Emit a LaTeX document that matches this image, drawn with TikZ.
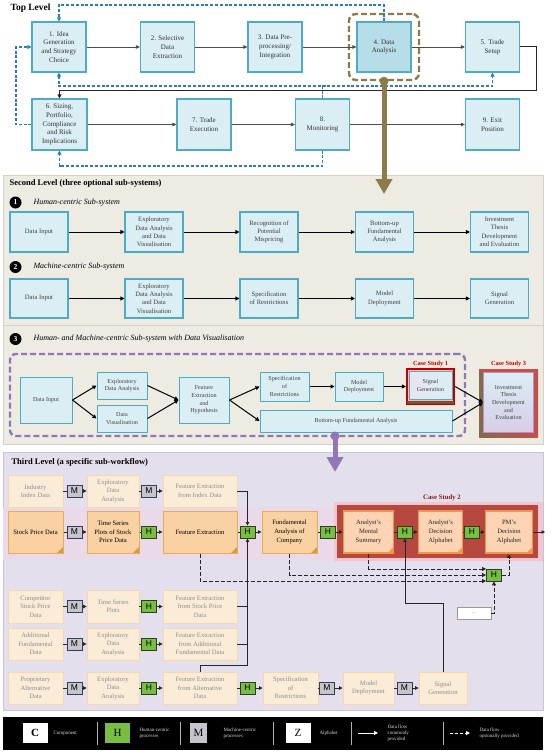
\documentclass[tikz,border=0pt]{standalone}
\usepackage{fontspec}
\setmainfont{Liberation Serif}
\newfontfamily\hsans{Liberation Sans}
\usetikzlibrary{arrows.meta,calc}
\definecolor{tlfill}{HTML}{DAEEF3}
\definecolor{tlline}{HTML}{4BACC6}
\definecolor{tlfourfill}{HTML}{B7DDE8}
\definecolor{olivec}{HTML}{8C7C4B}
\definecolor{bluec}{HTML}{2B7BC0}
\definecolor{beigec}{HTML}{EEEBE3}
\definecolor{beigeline}{HTML}{D6D1C4}
\definecolor{lavc}{HTML}{E4DFEC}
\definecolor{lavline}{HTML}{CBC3D8}
\definecolor{purplec}{HTML}{8F78B5}
\definecolor{fadfill}{HTML}{FBECD8}
\definecolor{fadline}{HTML}{F5D8B0}
\definecolor{fadtext}{HTML}{8C8C8C}
\definecolor{mainfill}{HTML}{FAD1A3}
\definecolor{mainline}{HTML}{E1AE5C}
\definecolor{maindark}{HTML}{D39A45}
\definecolor{csfill}{HTML}{FCD4B3}
\definecolor{csline}{HTML}{F0954A}
\definecolor{cstwored}{HTML}{B6483F}
\definecolor{cstwopink}{HTML}{F3C5D1}
\definecolor{cstwotext}{HTML}{821E1E}
\definecolor{pinkband}{HTML}{EADAE9}
\definecolor{hgreen}{HTML}{78BE43}
\definecolor{hline}{HTML}{2C3E20}
\definecolor{mgray}{HTML}{C5C5CC}
\definecolor{mline}{HTML}{3A3A55}
\definecolor{redc}{HTML}{C00000}
\definecolor{csbrown}{HTML}{7A5230}
\definecolor{csthreel}{HTML}{7F6C48}
\definecolor{csthreer}{HTML}{C4504B}
\definecolor{invbot}{HTML}{D7CDE8}
\definecolor{invline}{HTML}{C38CC8}
\tikzset{
 tl/.style={draw=tlline, fill=tlfill, line width=1.1pt, align=center, inner sep=1pt, text=black!80, font=\fontsize{7}{8.8}\selectfont, minimum width=54pt, minimum height=50pt},
 sl/.style={draw=tlline, fill=tlfill, line width=1.1pt, align=center, inner sep=1pt, text=black!75, font=\fontsize{6.6}{8.3}\selectfont, minimum width=58pt, minimum height=40pt},
 sthree/.style={draw=tlline, fill=tlfill, line width=1pt, align=center, inner sep=1pt, text=black!75, font=\fontsize{6.1}{7.7}\selectfont},
 fad/.style={draw=fadline, fill=fadfill, line width=0.8pt, align=center, inner sep=1pt, text=fadtext, font=\fontsize{6.6}{8.5}\selectfont, minimum height=32pt},
 fold/.style={path picture={\fill[#1] ([xshift=-6pt]path picture bounding box.south east) -- ([yshift=6pt]path picture bounding box.south east) -- (path picture bounding box.south east) -- cycle;}},
 mn/.style={draw=mainline, fill=mainfill, line width=1pt, align=center, inner sep=1pt, text=black, font=\fontsize{6.6}{8.6}\selectfont, minimum height=42pt, fold=maindark},
 an/.style={draw=csline, fill=csfill, line width=1.6pt, align=center, inner sep=1pt, text=black!85, font=\fontsize{6.6}{8.6}\selectfont, minimum height=42pt, fold=csline},
 hb/.style={draw=hline, fill=hgreen, line width=0.9pt, minimum width=15pt, minimum height=12pt, inner sep=0pt, font=\hsans\fontsize{8.5}{8.5}\selectfont},
 mb/.style={draw=mline, fill=mgray, line width=0.9pt, minimum width=15pt, minimum height=12pt, inner sep=0pt, font=\hsans\fontsize{8.5}{8.5}\selectfont},
 sm/.style={draw=black!85, line width=0.8pt},
 sma/.style={sm, -{Triangle[length=3.5pt,width=3.5pt]}},
 gline/.style={draw=black!70, line width=0.8pt, -{Triangle[length=4pt,width=3.5pt]}},
 kline/.style={draw=black, line width=1pt, -{Triangle[length=4pt,width=4pt]}},
 bd/.style={draw=bluec, line width=1.1pt, dash pattern=on 3pt off 1.8pt, -{Triangle[length=4pt,width=4pt]}},
 dk/.style={draw=black!85, line width=1pt, dash pattern=on 4pt off 2pt, -{Triangle[length=4pt,width=4pt]}},
 numc/.style={circle, fill=black, text=white, font=\bfseries\fontsize{7.5}{7.5}\selectfont, minimum size=12pt, inner sep=0pt},
 subt/.style={anchor=west, font=\itshape\fontsize{8}{9}\selectfont},
 head/.style={anchor=west, font=\bfseries\fontsize{8.5}{10}\selectfont},
 cst/.style={font=\bfseries\fontsize{6.3}{7}\selectfont},
 lgbox/.style={draw=none, fill=white, minimum width=25pt, minimum height=20pt, inner sep=0pt, font=\fontsize{11}{11}\selectfont},
 lgt/.style={anchor=west, text=white!85!black, align=left, font=\fontsize{5}{5.8}\selectfont},
 lgsep/.style={draw=white!70!black, line width=1pt}
}
\begin{document}
\begin{tikzpicture}[x=1pt,y=-1pt]
\useasboundingbox (0,0) rectangle (550,754);
\fill[white] (0,0) rectangle (550,754);

% ---------------- TOP LEVEL ----------------
\node[anchor=west, font=\bfseries\fontsize{9.5}{10}\selectfont] (ttop) at (7,8.5) {Top Level};
\node[tl] (n1) at (59,47) {1. Idea\\Generation\\and Strategy\\Choice};
\node[tl] (n2) at (167.5,47) {2. Selective\\Data\\Extraction};
\node[tl] (n3) at (275,47) {3. Data Pre-\\processing/\\Integration};
\node[tl, fill=tlfourfill] (n4) at (384,47) {4. Data\\Analysis};
\node[tl] (n5) at (492.5,47) {5. Trade\\Setup};
\node[tl, minimum width=55pt, minimum height=51pt] (n6) at (59.5,124.5) {6. Sizing,\\Portfolio,\\Compliance\\and Risk\\Implications};
\node[tl, minimum height=51pt] (n7) at (204,124.5) {7. Trade\\Execution};
\node[tl, minimum height=51pt] (n8) at (322.5,124.5) {8.\\Monitoring};
\node[tl, minimum height=51pt] (n9) at (492.5,124.5) {9. Exit\\Position};
\node[draw=olivec, line width=2.4pt, dash pattern=on 6pt off 3pt, rounded corners=7pt, minimum width=70pt, minimum height=66pt] (f4) at (384,47) {};

\draw[gline] (n1) -- (n2);
\draw[gline] (n2) -- (n3);
\draw[gline] (n3) -- (n4);
\draw[gline] (n4) -- (n5);
\draw[gline] (n6) -- (n7);
\draw[gline] (n7) -- (n8);
\draw[gline] (n8) -- (n9);
\draw[draw=black!85, line width=1pt, -{Triangle[length=4pt,width=4pt]}] (n5.east) -- (536,47) |- (59.5,91) -- (n6.north);

\draw[bd] (n4.north) -- (384,5) -| (n1.north);
\coordinate (b86) at (322.5,86);
\draw[bd] (n8.north) -- (b86) -| (n1.south);
\draw[bd] (b86) -| (n5.south);
\draw[bd] (n8.south) -- (322.5,166) -| (n6.south);
\draw[bd] (n6.west) -- (16,124.5) |- (n1.west);

% ---------------- SECOND LEVEL ----------------
\fill[beigec] (3,175) rectangle (543,444);
\draw[beigeline, line width=0.8pt] (3,175) rectangle (543,444);
\draw[beigeline, line width=1pt] (3,325.5) -- (543,325.5);

\node[head] (tsec) at (6,183) {Second Level (three optional sub-systems)};
\node[numc] (c1) at (15.5,202.5) {1};
\node[subt] (t1) at (30,202.5) {Human-centric Sub-system};
\node[sl] (s11) at (39,232) {Data Input};
\node[sl] (s12) at (154,232) {Exploratory\\Data Analysis\\and Data\\Visualisation};
\node[sl] (s13) at (269,232) {Recognition of\\Potential\\Mispricing};
\node[sl] (s14) at (384.5,232) {Bottom-up\\Fundamental\\Analysis};
\node[sl] (s15) at (499.5,232) {Investment\\Thesis\\Development\\and Evaluation};
\draw[kline] (s11) -- (s12);
\draw[kline] (s12) -- (s13);
\draw[kline] (s13) -- (s14);
\draw[kline] (s14) -- (s15);

\node[numc] (c2) at (15.5,267) {2};
\node[subt] (t2) at (30,267) {Machine-centric Sub-system};
\node[sl, minimum height=39pt] (s21) at (39,298.5) {Data Input};
\node[sl, minimum height=39pt] (s22) at (154,298.5) {Exploratory\\Data Analysis\\and Data\\Visualisation};
\node[sl, minimum height=39pt] (s23) at (269,298.5) {Specification\\of Restrictions};
\node[sl, minimum height=39pt] (s24) at (384.5,298.5) {Model\\Deployment};
\node[sl, minimum height=39pt] (s25) at (499.5,298.5) {Signal\\Generation};
\draw[kline] (s21) -- (s22);
\draw[kline] (s22) -- (s23);
\draw[kline] (s23) -- (s24);
\draw[kline] (s24) -- (s25);

\node[numc] (c3) at (15.5,339) {3};
\node[subt] (t3) at (30,339) {Human- and Machine-centric Sub-system with Data Visualisation};

\node[draw=purplec, line width=2.4pt, dash pattern=on 6pt off 3pt, rounded corners=6pt, minimum width=455pt, minimum height=82pt] (pf) at (237.5,395) {};

% case study 1 frame
\node[draw=redc, fill=white!75!redc, line width=2.2pt, minimum width=47pt, minimum height=35pt, inner sep=0pt] (cs1) at (430.5,386.5) {};
\fill[csbrown] (407.2,400.5) rectangle (453.8,403.8);
\node[cst, text=redc] (cs1t) at (430.5,363.5) {Case Study 1};
% case study 3 frame
\shade[left color=csthreel, right color=csthreer] (479,369) rectangle (538,437);
\fill[csthreer] (479,369) rectangle (538,372);
\node[cst, text=redc] (cs3t) at (508.5,363.5) {Case Study 3};

\node[sthree, minimum width=52pt, minimum height=46pt] (di3) at (46,400) {Data Input};
\node[sthree, minimum width=50pt, minimum height=27pt] (eda3) at (122,385.5) {Exploratory\\Data Analysis};
\node[sthree, minimum width=50pt, minimum height=27pt] (dv3) at (122,418.5) {Data\\Visualisation};
\node[sthree, minimum width=50pt, minimum height=46pt] (feh3) at (204,400) {Feature\\Extraction\\and\\Hypothesis};
\node[sthree, minimum width=49pt, minimum height=29pt] (spec3) at (284.5,386.5) {Specification\\of\\Restrictions};
\node[sthree, minimum width=48pt, minimum height=29pt] (model3) at (359,386.5) {Model\\Deployment};
\node[sthree, minimum width=43pt, minimum height=28pt, left color=white!80!purplec, right color=tlfill] (sig3) at (430.5,385.5) {Signal\\Generation};
\node[sthree, minimum width=192pt, minimum height=22pt] (bu3) at (356,421) {Bottom-up Fundamental Analysis};
\node[sthree, minimum width=50pt, minimum height=60pt, top color=tlfill, bottom color=invbot, draw=invline] (inv3) at (508.5,402.5) {Investment\\Thesis\\Development\\and\\Evaluation};

\draw[kline] (di3.east) -- (eda3.west);
\draw[kline] (di3.east) -- (dv3.west);
\draw[kline] (eda3.east) -- (feh3.west);
\draw[kline] (dv3.east) -- (feh3.west);
\draw[kline] (feh3.east) -- (spec3.west);
\draw[kline] (feh3.east) -- (bu3.west);
\draw[kline] (spec3) -- (model3);
\draw[kline] (model3) -- (cs1);
\draw[kline] (cs1.east) -- (inv3.west);
\draw[kline] (bu3.east) -- (inv3.west);

% big olive arrow
\fill[olivec] (f4.south) circle (4.5);
\coordinate (oa) at (384,194);
\draw[olivec, line width=5pt, -{Triangle[length=15pt,width=16pt]}] (f4.south) -- (oa);

% ---------------- THIRD LEVEL ----------------
\fill[lavc] (3,452) rectangle (543,710);
\draw[lavline, line width=0.8pt] (3,452) rectangle (543,710);
\fill[pinkband] (3.4,507) rectangle (542.6,560);
\fill[cstwopink] (334,502) rectangle (542.6,561);
\fill[cstwored] (337,505) rectangle (538,558);
\node[cst, text=cstwotext, font=\bfseries\fontsize{6.8}{7}\selectfont] (cs2t) at (442,497.5) {Case Study 2};
\node[head] (tthird) at (8,462) {Third Level (a specific sub-workflow)};

% row 1
\node[fad, minimum width=55pt] (r1a) at (35.5,491) {Industry\\Index Data};
\node[mb] (r1m1) at (74.5,491) {M};
\node[fad, minimum width=52pt] (r1b) at (113,491) {Exploratory\\Data\\Analysis};
\node[mb] (r1m2) at (149,491) {M};
\node[fad, minimum width=74pt] (r1c) at (200,491) {Feature Extraction\\from Index Data};
\draw[sm] (r1a) -- (r1m1); \draw[sma] (r1m1) -- (r1b);
\draw[sm] (r1b) -- (r1m2); \draw[sma] (r1m2) -- (r1c);

% row 2
\node[mn, minimum width=55pt] (spd) at (35.5,532) {Stock Price Data};
\node[mb] (r2m) at (74.5,532) {M};
\node[mn, minimum width=52pt] (tsp) at (113,532) {Time Series\\Plots of Stock\\Price Data};
\node[hb] (r2h1) at (149,532) {H};
\node[mn, minimum width=74pt] (fe) at (200,532) {Feature Extraction};
\node[hb] (hj) at (247.5,532) {H};
\node[mn, minimum width=55pt] (fa) at (289.5,532) {Fundamental\\Analysis of\\Company};
\node[hb] (r2h3) at (328,532) {H};
\node[an, minimum width=50pt] (ms) at (368.5,532) {Analyst’s\\Mental\\Summary};
\node[hb] (hc1) at (405,532) {H};
\node[an, minimum width=44pt] (da) at (440.5,532) {Analyst’s\\Decision\\Alphabet};
\node[hb] (r2h5) at (472,532) {H};
\node[an, minimum width=47pt] (pm) at (509,532) {PM’s\\Decision\\Alphabet};
\coordinate (exit) at (545,532);
\draw[sm] (spd) -- (r2m); \draw[sma] (r2m) -- (tsp);
\draw[sm] (tsp) -- (r2h1); \draw[sma] (r2h1) -- (fe);
\draw[sm] (fe) -- (hj); \draw[sma] (hj) -- (fa);
\draw[sm] (fa) -- (r2h3); \draw[sma] (r2h3) -- (ms);
\draw[sm] (ms) -- (hc1); \draw[sma] (hc1) -- (da);
\draw[sm] (da) -- (r2h5); \draw[sma] (r2h5) -- (pm);
\draw[sma] (pm.east) -- (exit);

% row 3
\node[fad, minimum width=55pt, minimum height=33pt] (r3a) at (35.5,606.5) {Competitor\\Stock Price\\Data};
\node[mb] (r3m) at (74.5,606.5) {M};
\node[fad, minimum width=52pt, minimum height=33pt] (r3b) at (113,606.5) {Time Series\\Plots};
\node[hb] (r3h) at (149,606.5) {H};
\node[fad, minimum width=74pt, minimum height=33pt] (r3c) at (200,606.5) {Feature Extraction\\from Stock Price\\Data};
\draw[sm] (r3a) -- (r3m); \draw[sma] (r3m) -- (r3b);
\draw[sm] (r3b) -- (r3h); \draw[sma] (r3h) -- (r3c);

% row 4
\node[fad, minimum width=55pt] (r4a) at (35.5,644) {Additional\\Fundamental\\Data};
\node[mb] (r4m) at (74.5,644) {M};
\node[fad, minimum width=52pt] (r4b) at (113,644) {Exploratory\\Data\\Analysis};
\node[hb] (r4h) at (149,644) {H};
\node[fad, minimum width=74pt] (r4c) at (200,644) {Feature Extraction\\from Additional\\Fundamental Data};
\draw[sm] (r4a) -- (r4m); \draw[sma] (r4m) -- (r4b);
\draw[sm] (r4b) -- (r4h); \draw[sma] (r4h) -- (r4c);

% row 5
\node[fad, minimum width=55pt] (r5a) at (35.5,688) {Proprietary\\Alternative\\Data};
\node[mb] (r5m) at (74.5,688) {M};
\node[fad, minimum width=52pt] (r5b) at (113,688) {Exploratory\\Data\\Analysis};
\node[hb] (r5h) at (149,688) {H};
\node[fad, minimum width=74pt] (fead) at (200,688) {Feature Extraction\\from Alternative\\Data};
\node[hb] (r5h2) at (247.5,688) {H};
\node[fad, minimum width=55pt] (spec5) at (290.5,688) {Specification\\of\\Restrictions};
\node[mb] (r5m2) at (327,688) {M};
\node[fad, minimum width=51pt] (model5) at (368.5,688) {Model\\Deployment};
\node[mb] (r5m3) at (404.5,688) {M};
\node[fad, minimum width=48pt] (sig5) at (443,688) {Signal\\Generation};
\draw[sm] (r5a) -- (r5m); \draw[sma] (r5m) -- (r5b);
\draw[sm] (r5b) -- (r5h); \draw[sma] (r5h) -- (fead);
\draw[sm] (fead) -- (r5h2); \draw[sma] (r5h2) -- (spec5);
\draw[sm] (spec5) -- (r5m2); \draw[sma] (r5m2) -- (model5);
\draw[sm] (model5) -- (r5m3); \draw[sma] (r5m3) -- (sig5);

% junction lines into hj
\draw[sma] (r1c.east) -| (hj.north);
\draw[sma] (fead.north) -- (200,665) -| (hj.south);
\coordinate (j3) at (247.5,606.5);
\coordinate (j4) at (247.5,644);
\draw[sm] (r3c.east) -- (j3);
\draw[sm] (r4c.east) -- (j4);

% optional H and dots box
\node[hb] (h2) at (494,575) {H};
\node[draw=black!40, fill=white, minimum width=34pt, minimum height=12pt, inner sep=0pt, text=black!50, font=\fontsize{5}{5}\selectfont] (dots) at (474,613) {...};
\draw[dk] (ms.south) |- ([yshift=6pt]h2.west);
\draw[dk] (fa.south) |- (h2.west);
\draw[dk] (fe.south) |- ([yshift=-6pt]h2.west);
\draw[dk] (h2.east) -| (pm.south);
\draw[dk] (dots.east) -| (h2.south);
\draw[sma, line width=1pt] (sig5.north) -- ++(0,-68) -| (hc1.south);

% purple arrow
\coordinate (pa0) at (335,436);
\coordinate (pa1) at (335,472);
\fill[purplec] (pa0) circle (4.5);
\draw[purplec, line width=5pt, -{Triangle[length=15pt,width=16pt]}] (pa0) -- (pa1);

% ---------------- LEGEND ----------------
\fill[black] (3,717) rectangle (543,750);
\node[lgbox, font=\bfseries\fontsize{11}{11}\selectfont] (lc) at (35,733) {C};
\node[lgt] (lct) at (50,733) {Component};
\draw[lgsep] (97,722) -- (97,745);
\node[lgbox, fill=hgreen] (lh) at (117.5,733) {H};
\node[lgt] (lht) at (136,733) {Human-centric\\processes};
\draw[lgsep] (180,722) -- (180,745);
\node[lgbox, fill=mgray, minimum width=17pt] (lm) at (198.5,733) {M};
\node[lgt] (lmt) at (220,733) {Machine-centric\\processes};
\draw[lgsep] (273,722) -- (273,745);
\node[lgbox] (lz) at (298,733) {Z};
\node[lgt] (lzt) at (316,733) {Alphabet};
\draw[lgsep] (351,722) -- (351,745);
\coordinate (la0) at (358,733);
\coordinate (la1) at (378,733);
\draw[white, line width=1pt, -{Triangle[length=4pt,width=4pt]}] (la0) -- (la1);
\node[lgt] (lat) at (384,733) {Data flow\\commonly\\provided};
\draw[lgsep] (443,722) -- (443,745);
\coordinate (lb0) at (450,733);
\coordinate (lb1) at (470,733);
\draw[white, line width=1pt, dash pattern=on 3pt off 2pt, -{Triangle[length=4pt,width=4pt]}] (lb0) -- (lb1);
\node[lgt] (lbt) at (476,733) {Data flow\\optionally provided};
\end{tikzpicture}
\end{document}
